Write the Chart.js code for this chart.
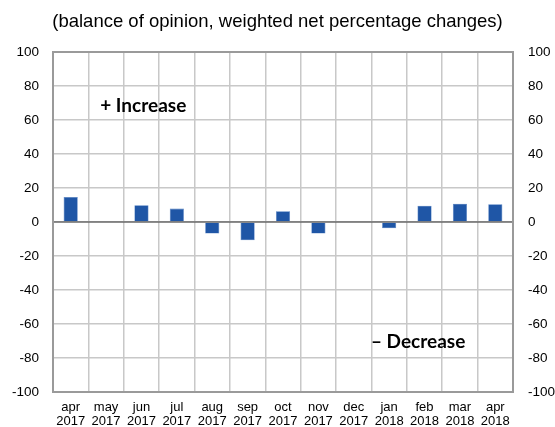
<!DOCTYPE html>
<html>
<head>
<meta charset="utf-8">
<script src="https://cdn.jsdelivr.net/npm/chart.js@4"></script>
<style>
html,body{margin:0;padding:0;background:#fff;}
#wrap{width:555px;height:427px;position:relative;}
</style>
</head>
<body>
<div id="wrap"><canvas id="c" width="555" height="427"></canvas></div>
<script>
const categories = [['apr','2017'],['may','2017'],['jun','2017'],['jul','2017'],['aug','2017'],['sep','2017'],['oct','2017'],['nov','2017'],['dec','2017'],['jan','2018'],['feb','2018'],['mar','2018'],['apr','2018']];
const values = [14.7, 0, 9.8, 7.9, -6.8, -10.8, 6.3, -6.8, 0, -3.7, 9.6, 10.8, 10.4];
const yMin = -100, yMax = 100, yStep = 20;
const titleText = '(balance of opinion, weighted net percentage changes)';
const annotations = [
  {text: '+ Increase', x: 2.05, y: 68.5},
  {text: '\u2013 Decrease', x: 9.82, y: -70.5}
];

const fontFamily = '"Liberation Sans", Arial, sans-serif';

const overlay = {
  id: 'overlay',
  afterDatasetsDraw(chart) {
    const {ctx, chartArea: a, scales} = chart;
    ctx.save();
    const y0 = scales.y.getPixelForValue(0);
    ctx.strokeStyle = '#3a3a3a';
    ctx.lineWidth = 1.2;
    ctx.beginPath(); ctx.moveTo(a.left, y0); ctx.lineTo(a.right, y0); ctx.stroke();
    ctx.strokeStyle = '#9a9a9a';
    ctx.lineWidth = 2;
    ctx.strokeRect(a.left, a.top, a.right - a.left, a.bottom - a.top);
    ctx.fillStyle = '#000';
    ctx.font = 'bold 19px Lato, "Open Sans", sans-serif';
    ctx.textAlign = 'center';
    ctx.textBaseline = 'middle';
    annotations.forEach(an => {
      ctx.fillText(an.text, scales.x.getPixelForValue(an.x), scales.y.getPixelForValue(an.y));
    });
    ctx.restore();
  }
};

new Chart(document.getElementById('c'), {
  type: 'bar',
  data: {
    labels: categories,
    datasets: [{
      data: values,
      backgroundColor: '#1f56a6',
      borderColor: '#4d7cc0',
      borderWidth: 0.6,
      barPercentage: 0.8,
      categoryPercentage: 0.5
    }]
  },
  options: {
    responsive: false,
    animation: false,
    devicePixelRatio: 1,
    layout: {padding: 0},
    plugins: {
      legend: {display: false},
      tooltip: {enabled: false},
      title: {
        display: true,
        text: titleText,
        color: '#000',
        font: {family: fontFamily, size: 18.5, weight: 'normal', lineHeight: 1.2},
        padding: {top: 11, bottom: 18.8}
      }
    },
    scales: {
      x: {
        grid: {color: '#c8c8c8', lineWidth: 1.5, drawTicks: false, offset: true},
        border: {display: false},
        ticks: {color: '#000', font: {family: fontFamily, size: 13, lineHeight: 1.05}, padding: 9, maxRotation: 0, autoSkip: false},
        afterFit(s) { s.height = 35; }
      },
      y: {
        position: 'left',
        min: yMin, max: yMax,
        grid: {color: '#c8c8c8', lineWidth: 1.5, drawTicks: false},
        border: {display: false},
        ticks: {stepSize: yStep, color: '#000', font: {family: fontFamily, size: 13.5}, padding: 14},
        afterFit(s) { s.width = 53; }
      },
      y2: {
        position: 'right',
        min: yMin, max: yMax,
        grid: {display: false, drawTicks: false},
        border: {display: false},
        ticks: {stepSize: yStep, color: '#000', font: {family: fontFamily, size: 13.5}, padding: 15},
        afterFit(s) { s.width = 42; }
      }
    }
  },
  plugins: [overlay]
});
</script>
</body>
</html>
